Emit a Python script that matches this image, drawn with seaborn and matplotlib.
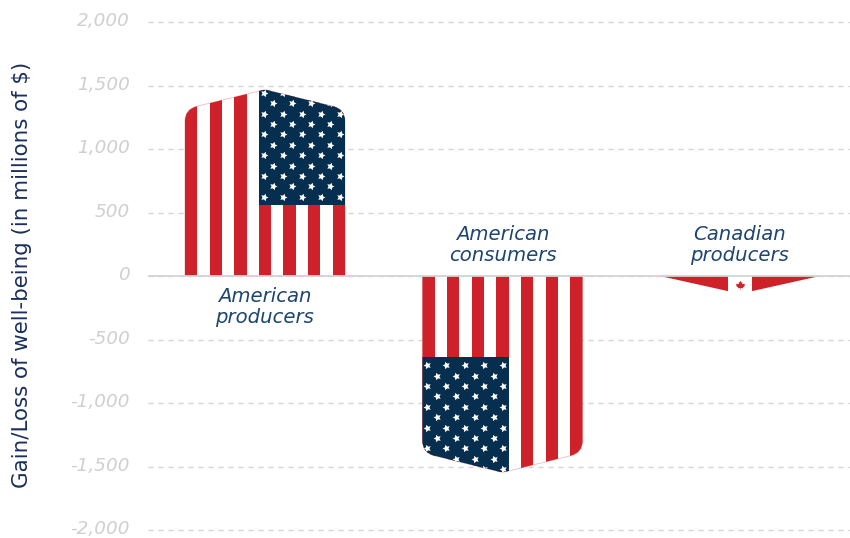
import matplotlib
matplotlib.use("Agg")
import matplotlib.pyplot as plt
from matplotlib.path import Path
from matplotlib.patches import PathPatch
from matplotlib.transforms import ScaledTranslation
import numpy as np
import pandas as pd
import seaborn as sns

groups = ["American\nproducers", "American\nconsumers", "Canadian\nproducers"]
welfare_change = [1468, -1547, -140]
y_ticks = [2000, 1500, 1000, 500, 0, -500, -1000, -1500, -2000]
y_tick_labels = ["2,000", "1,500", "1,000", "500", "0", "-500", "-1,000", "-1,500", "-2,000"]

NAVY = "#062f4f"
RED = "#cf2129"
LABEL = "#1d4570"
AXIS_TEXT = "#1b2f5e"
GRID = "#d4d4d4"
TICK = "#cfcfcf"

sns.set_theme(style="white")
plt.rcParams["font.family"] = ["DejaVu Sans"]

fig, ax = plt.subplots(figsize=(8.5, 5.38), dpi=100)
ax.set_position([148 / 850, 1 - 530 / 538, (850 - 148) / 850, (530 - 22) / 538])

frame = pd.DataFrame({"group": groups, "change": welfare_change})
sns.barplot(data=frame, x="group", y="change", color="white", width=0.674,
            saturation=1, ax=ax, zorder=3)
ax.set_xlim(-0.4926, 2.4632)
ax.set_ylim(-2000, 2000)


def shield(x0, width, value, depth=155, radius=0.05, round_v=95):
    """Bar outline with a pointed tip and rounded shoulders, in data units."""
    sign = np.sign(value)
    x1 = x0 + width
    mid = x0 + width / 2
    d = min(depth, abs(value))
    shoulder = value - sign * d
    frac = radius / (width / 2)
    if d < depth:
        verts = [(x0, 0), (mid, value), (x1, 0), (x0, 0)]
        codes = [Path.MOVETO, Path.LINETO, Path.LINETO, Path.CLOSEPOLY]
        return Path(verts, codes)
    verts = [
        (x0, 0),
        (x0, shoulder - sign * round_v),
        (x0, shoulder),
        (x0 + radius, shoulder + frac * (value - shoulder)),
        (mid, value),
        (x1 - radius, shoulder + frac * (value - shoulder)),
        (x1, shoulder),
        (x1, shoulder - sign * round_v),
        (x1, 0),
        (x0, 0),
    ]
    codes = [Path.MOVETO, Path.LINETO, Path.CURVE3, Path.CURVE3, Path.LINETO,
             Path.LINETO, Path.CURVE3, Path.CURVE3, Path.LINETO, Path.CLOSEPOLY]
    return Path(verts, codes)


# Maple leaf outline for the marker on the Canadian bar
leaf = Path(np.array([
    (0, 1.0), (0.2, 0.62), (0.38, 0.72), (0.3, 0.2), (0.55, 0.45), (0.62, 0.3),
    (0.95, 0.36), (0.82, 0.02), (0.95, -0.08), (0.5, -0.42), (0.55, -0.6),
    (0.05, -0.52), (0.05, -1.0), (-0.05, -1.0), (-0.05, -0.52), (-0.55, -0.6),
    (-0.5, -0.42), (-0.95, -0.08), (-0.82, 0.02), (-0.95, 0.36), (-0.62, 0.3),
    (-0.55, 0.45), (-0.3, 0.2), (-0.38, 0.72), (-0.2, 0.62), (0, 1.0)
]), closed=True)

star = (5, 1, -90)
canton_depth = 910
n_stripes = 13
col_step = 0.08
row_step = 82

for i, patch in enumerate(ax.patches):
    x0, width = patch.get_x(), patch.get_width()
    value = welfare_change[i]
    outline = shield(x0, width, value)
    patch.set_clip_path(outline, ax.transData)
    patch.set_linewidth(0)
    stripe = width / n_stripes

    if i < 2:
        # Faint red rim that shows along the white stripes
        ax.add_patch(PathPatch(outline, facecolor="none", edgecolor=RED, alpha=0.3,
                               lw=0.6, zorder=3.5))
        # Thirteen stripes running along the bar, red on the odd positions
        for k in range(0, n_stripes, 2):
            bar = ax.bar(x0 + k * stripe, value, width=stripe, align="edge",
                         color=RED, linewidth=0, zorder=4)
            bar[0].set_clip_path(outline, ax.transData)
        # Canton and staggered rows of stars anchored to the tip of the bar
        sign = np.sign(value)
        cx = x0 + 6 * stripe if value > 0 else x0
        canton = ax.bar(cx, -sign * canton_depth, width=7 * stripe, bottom=value,
                        align="edge", color=NAVY, linewidth=0, zorder=5)
        canton[0].set_clip_path(outline, ax.transData)
        anchor = cx + 0.021 if value > 0 else cx + 7 * stripe - 0.0235
        step = col_step if value > 0 else -col_step
        for row in range(11):
            y = value - sign * (25 + row * row_step)
            cols = 5 if row % 2 == 0 else 4
            off = 0 if row % 2 == 0 else 0.5
            xs = [anchor + step * (c + off) for c in range(cols)]
            pts = ax.scatter(xs, [y] * cols, marker=star if value > 0 else (5, 1, 90),
                             s=32, color="white", linewidths=0, zorder=6)
            pts.set_clip_path(outline, ax.transData)
    else:
        # Red field with a white centre band and a maple leaf
        for start, w in [(x0, width * 0.4225), (x0 + width * 0.5775, width * 0.4225)]:
            bar = ax.bar(start, value, width=w, align="edge", color=RED,
                         linewidth=0, zorder=4)
            bar[0].set_clip_path(outline, ax.transData)
        ax.scatter([x0 + width / 2], [value * 0.5], marker=leaf, s=46, color=RED,
                   linewidths=0, zorder=6)

ax.axhline(0, color=GRID, lw=1.3, zorder=7)
ax.set_yticks(y_ticks, y_tick_labels)
ax.yaxis.grid(True, color=GRID, lw=1, linestyle=(0, (3.7, 3.5)), zorder=1, clip_on=False)
ax.xaxis.grid(False)
ax.set_xticks([])
ax.set_xlabel("")
sns.despine(ax=ax, left=True, bottom=True)
ax.tick_params(axis="y", length=0, pad=13, labelsize=13.2, labelcolor=TICK)
nudge = ScaledTranslation(0, 2 / 72, fig.dpi_scale_trans)
for lab in ax.get_yticklabels():
    lab.set_fontstyle("italic")
    lab.set_transform(lab.get_transform() + nudge)

ax.set_ylabel("")
fig.text(22 / 850, 1 - 275 / 538, "Gain/Loss of well-being (in millions of $)",
         rotation=90, ha="center", va="center", color=AXIS_TEXT, fontsize=15.4)

for i, name in enumerate(groups):
    value = welfare_change[i]
    y = -245 if value > 0 else 245
    ax.text(i, y, name, ha="center", va="center", fontsize=14.1, style="italic",
            color=LABEL, linespacing=1.1, zorder=8)

fig.savefig("out.png", dpi=100, facecolor="white")
